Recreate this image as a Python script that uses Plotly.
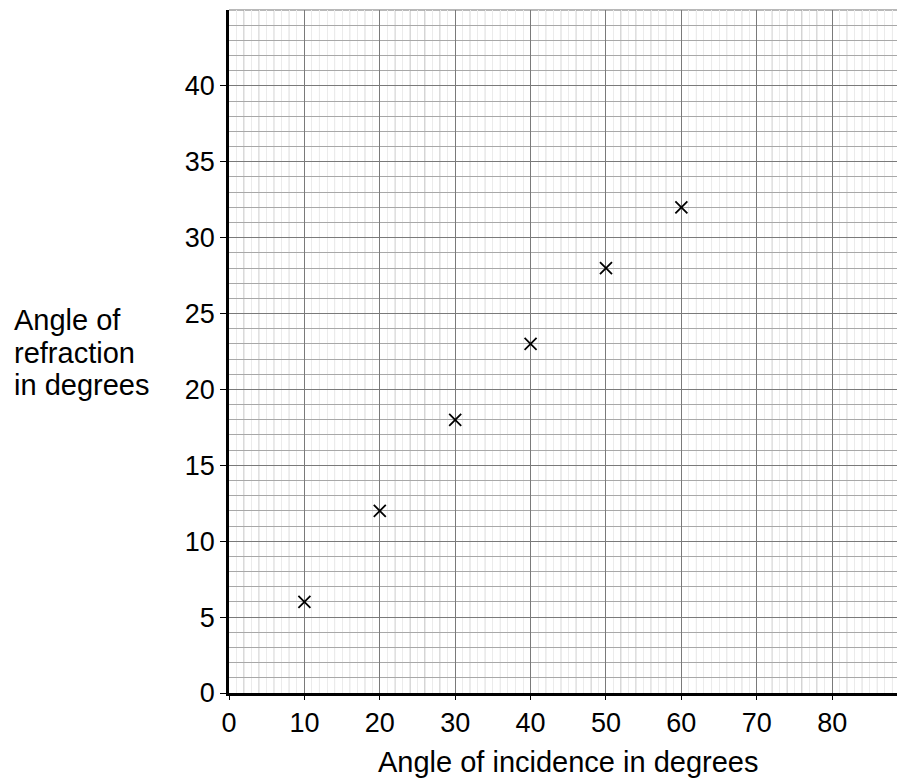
import plotly.graph_objects as go

incidence = [10, 20, 30, 40, 50, 60]
refraction = [6, 12, 18, 23, 28, 32]
x_ticks = [0, 10, 20, 30, 40, 50, 60, 70, 80]
y_ticks = [0, 5, 10, 15, 20, 25, 30, 35, 40]
x_title = "Angle of incidence in degrees"
y_title_lines = ["Angle of", "refraction", "in degrees"]
x_max = 88.6
y_max = 45

FONT = "Liberation Sans, Arial, sans-serif"

fig = go.Figure()
fig.add_trace(go.Scatter(
    x=incidence, y=refraction, mode="markers",
    marker=dict(symbol="x-thin", size=12, line=dict(color="black", width=1.8)),
    showlegend=False, hoverinfo="skip"))

shapes = []
for v in range(2, int(x_max) + 1, 2):
    if v % 10 != 0:
        shapes.append(dict(type="line", xref="x", yref="paper", x0=v, x1=v, y0=0, y1=1,
                           line=dict(color="#a8a8a8", width=1), layer="below"))
shapes.append(dict(type="line", xref="paper", yref="paper", x0=0, x1=1, y0=1, y1=1,
                   line=dict(color="#a0a0a0", width=1.5), layer="below"))

annotations = [dict(
    text=x_title, xref="paper", yref="paper", x=0.5075, y=-0.101,
    xanchor="center", yanchor="middle", showarrow=False,
    font=dict(size=29, family=FONT, color="black"))]
for line, yv in zip(y_title_lines, [24.55, 22.4, 20.3]):
    annotations.append(dict(
        text=line, xref="paper", yref="y", x=-0.3249, y=yv,
        xanchor="left", yanchor="middle", align="left", showarrow=False,
        font=dict(size=29, family=FONT, color="black")))

fig.update_layout(
    width=899, height=782,
    margin=dict(l=229, r=2, t=10, b=89),
    paper_bgcolor="white", plot_bgcolor="white",
    font=dict(family=FONT, size=27, color="black"),
    shapes=shapes,
    annotations=annotations,
    xaxis=dict(
        range=[0, x_max], tickvals=x_ticks, ticks="outside", ticklen=4, tickcolor="black",
        tickfont=dict(size=27), showline=True, linecolor="black", linewidth=2.5,
        showgrid=True, gridcolor="#7a7a7a", gridwidth=1.3, zeroline=False,
        minor=dict(dtick=1, showgrid=True, gridcolor="#ebebeb", gridwidth=1),
    ),
    yaxis=dict(
        range=[0, y_max], tickvals=y_ticks, ticks="outside", ticklen=6, tickcolor="black",
        tickfont=dict(size=27), showline=True, linecolor="black", linewidth=2.5,
        showgrid=True, gridcolor="#7a7a7a", gridwidth=1.3, zeroline=False,
        minor=dict(dtick=1, showgrid=True, gridcolor="#a8a8a8", gridwidth=1),
    ),
)

fig.write_html("out.html", config={"displayModeBar": False}, post_script=(
    "document.body.style.margin='0';document.body.style.padding='0';"
    "document.body.style.overflow='hidden';"))
